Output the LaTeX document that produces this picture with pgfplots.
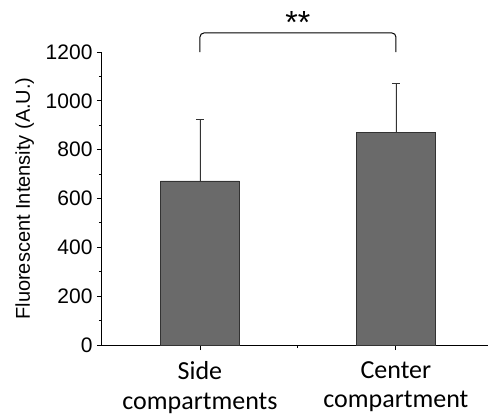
\documentclass[border=0pt]{standalone}
\usepackage{pgfplots}
\pgfplotsset{compat=1.18}
\usepackage{fontspec}
\setmainfont{Liberation Sans}
\newfontfamily\calfont{Carlito}
\definecolor{barfill}{HTML}{6A6A6A}
\definecolor{baredge}{HTML}{333333}
\begin{document}
\begin{tikzpicture}
\useasboundingbox (-102pt,-71pt) rectangle (386pt,345pt);
\begin{axis}[
  at={(0,0)}, anchor=south west,
  scale only axis, width=386pt, height=293pt,
  xmin=0.5, xmax=2.47, ymin=0, ymax=1200,
  axis x line*=bottom, axis y line*=left,
  axis line style={line width=1pt, black},
  tick align=outside,
  xtick={1,2}, xticklabels={{Side\\compartments},{Center\\compartment}},
  minor xtick={1.5},
  ytick={0,200,...,1200}, minor ytick={100,300,...,1100},
  major tick length=5pt, minor tick length=3pt,
  tick style={line width=0.9pt, black},
  /pgf/number format/assume math mode=true,
  /pgf/number format/1000 sep={},
  yticklabel style={font=\fontsize{21}{24}\selectfont, xshift=-1pt},
  xticklabel style={font=\calfont\fontsize{26}{29.5}\selectfont, align=center, yshift=-8pt},
  ylabel={Fluorescent Intensity (A.U.)},
  ylabel style={font=\fontsize{20}{24}\selectfont, at={(axis description cs:-0.2,0.5)}, anchor=center, rotate=0},
  clip=false,
]
\addplot[ybar, bar width=79pt, fill=barfill, draw=baredge, line width=0.8pt,
  error bars/.cd, y dir=plus, y explicit,
  error bar style={line width=0.6pt, baredge},
  error mark options={rotate=90, mark size=4pt, line width=0.6pt, baredge}]
  coordinates {(1,672) +- (0,253) (2,869) +- (0,203)};
\draw[line width=1pt, rounded corners=4pt] (axis cs:1,1200) -- (axis cs:1,1278) -- (axis cs:2,1278) -- (axis cs:2,1200);
\node[font=\fontsize{32}{36}\selectfont] at (axis cs:1.5,1320) {**};
\end{axis}
\end{tikzpicture}
\end{document}
